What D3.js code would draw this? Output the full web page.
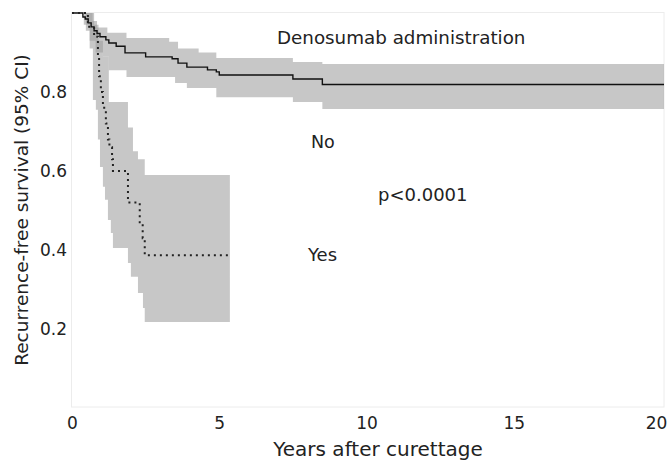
<!DOCTYPE html>
<html>
<head>
<meta charset="utf-8">
<script src="https://cdn.jsdelivr.net/npm/d3@7"></script>
<style>
  body { margin: 0; background: #fff; }
  text { font-family: "DejaVu Sans", sans-serif; fill: #222; }
</style>
</head>
<body>
<div class="chart"></div>
<script>
const svgWidth = 667
const svgHeight = 462

// tick labels
const xTicks = [0, 5, 10, 15, 20]
const yTicks = [0.2, 0.4, 0.6, 0.8]

// Denosumab = No (solid line)
const noTimes = [0, 0.37, 0.45, 0.55, 0.65, 0.75, 0.85, 0.95, 1.15, 1.25, 1.5, 1.8, 2.5, 3.4, 3.6, 3.9, 4.6, 4.9, 5.0, 7.5, 8.5]
const noSurv = [1, 0.99, 0.985, 0.975, 0.965, 0.955, 0.948, 0.94, 0.932, 0.924, 0.916, 0.899, 0.889, 0.884, 0.873, 0.863, 0.856, 0.851, 0.843, 0.833, 0.819]
const noUpperTimes = [0, 0.7, 0.85, 1.2, 1.85, 3.3, 3.6, 4.3, 4.9, 7.5, 8.5]
const noUpper = [1, 0.98, 0.963, 0.95, 0.937, 0.927, 0.91, 0.9, 0.886, 0.876, 0.871]
const noLowerTimes = [0, 0.4, 0.6, 0.8, 1.05, 1.25, 1.85, 3.5, 3.9, 4.9, 7.5, 8.5]
const noLower = [1, 0.97, 0.93, 0.9, 0.89, 0.855, 0.838, 0.823, 0.81, 0.787, 0.775, 0.757]
const noEnd = 20.1

// Denosumab = Yes (dotted line)
const yesTimes = [0, 0.54, 0.75, 0.88, 0.92, 0.98, 1.05, 1.15, 1.22, 1.27, 1.36, 1.39, 1.9, 2.3, 2.4, 2.47]
const yesSurv = [1, 0.965, 0.94, 0.89, 0.84, 0.80, 0.76, 0.72, 0.68, 0.66, 0.63, 0.60, 0.52, 0.47, 0.43, 0.387]
const yesUpperTimes = [0, 0.75, 0.9, 1.05, 1.25, 1.9, 2.07, 2.24, 2.47]
const yesUpper = [1, 0.97, 0.93, 0.89, 0.775, 0.71, 0.65, 0.63, 0.59]
const yesLowerTimes = [0, 0.47, 0.6, 0.71, 0.81, 0.88, 0.95, 1.05, 1.12, 1.22, 1.32, 1.39, 1.9, 2.0, 2.24, 2.41, 2.47]
const yesLower = [1, 0.955, 0.91, 0.78, 0.755, 0.68, 0.61, 0.56, 0.527, 0.476, 0.443, 0.405, 0.367, 0.332, 0.291, 0.253, 0.218]
const yesEnd = 5.36

let svg = d3.select(".chart")
  .append("svg")
  .attr("width", svgWidth)
  .attr("height", svgHeight)

let x = d3.scaleLinear().domain([0, 20.1]).range([72, 664])
let y = d3.scaleLinear().domain([0, 1]).range([408, 13])

// plot frame
svg.append("rect")
  .attr("x", 71.5).attr("y", 12.5)
  .attr("width", 664 - 71.5).attr("height", 407 - 12.5)
  .attr("fill", "none")
  .attr("stroke", "#ececec")

// step value lookup
function stepAt(times, vals, t) {
  let i = d3.bisectRight(times, t) - 1
  return vals[Math.max(0, i)]
}

function bandData(upT, up, loT, lo, end) {
  let ts = Array.from(new Set(upT.concat(loT))).sort((a, b) => a - b)
  ts.push(end)
  return ts.map(t => ({ t: t, hi: stepAt(upT, up, t), lo: stepAt(loT, lo, t) }))
}

function curveData(times, surv, end) {
  let pts = times.map((t, i) => ({ t: t, s: surv[i] }))
  pts.push({ t: end, s: surv[surv.length - 1] })
  return pts
}

let area = d3.area()
  .curve(d3.curveStepAfter)
  .x(d => x(d.t))
  .y0(d => y(d.lo))
  .y1(d => y(d.hi))

let line = d3.line()
  .curve(d3.curveStepAfter)
  .x(d => x(d.t))
  .y(d => y(d.s))

let bands = [
  bandData(noUpperTimes, noUpper, noLowerTimes, noLower, noEnd),
  bandData(yesUpperTimes, yesUpper, yesLowerTimes, yesLower, yesEnd)
]

svg.selectAll(".band")
  .data(bands)
  .enter()
  .append("path")
  .attr("class", "band")
  .attr("d", area)
  .attr("fill", "#999")
  .attr("fill-opacity", 0.55)

svg.append("path")
  .datum(curveData(noTimes, noSurv, noEnd))
  .attr("d", line)
  .attr("fill", "none")
  .attr("stroke", "#111")
  .attr("stroke-width", 1.4)

svg.append("path")
  .datum(curveData(yesTimes, yesSurv, yesEnd))
  .attr("d", line)
  .attr("fill", "none")
  .attr("stroke", "#222")
  .attr("stroke-width", 2)
  .attr("stroke-dasharray", "2,4")

// axes (labels only, no ticks)
let xAxis = svg.append("g")
  .attr("transform", "translate(0, 408)")
  .call(d3.axisBottom(x).tickValues(xTicks).tickSize(0).tickPadding(9))
xAxis.select(".domain").remove()
xAxis.selectAll("text").style("font-size", "17px").attr("fill", "#222")
// keep the last label inside the page
xAxis.selectAll("text").filter(d => d === 20).attr("dx", "-5")

let yAxis = svg.append("g")
  .attr("transform", "translate(71, 0)")
  .call(d3.axisLeft(y).tickValues(yTicks).tickFormat(d3.format(".1f")).tickSize(0).tickPadding(4))
yAxis.select(".domain").remove()
yAxis.selectAll("text").style("font-size", "17px").attr("fill", "#222")

svg.append("text")
  .attr("x", 378)
  .attr("y", 456)
  .attr("text-anchor", "middle")
  .style("font-size", "20px")
  .text("Years after curettage")

svg.append("text")
  .attr("transform", "rotate(-90)")
  .attr("x", -210)
  .attr("y", 28)
  .attr("text-anchor", "middle")
  .style("font-size", "18.5px")
  .text("Recurrence-free survival (95% CI)")

svg.append("text").attr("x", 277).attr("y", 44).style("font-size", "18.3px").text("Denosumab administration")
svg.append("text").attr("x", 311).attr("y", 148).style("font-size", "17.5px").text("No")
svg.append("text").attr("x", 378).attr("y", 201).style("font-size", "18px").text("p<0.0001")
svg.append("text").attr("x", 308).attr("y", 261).style("font-size", "18px").text("Yes")
</script>
</body>
</html>
